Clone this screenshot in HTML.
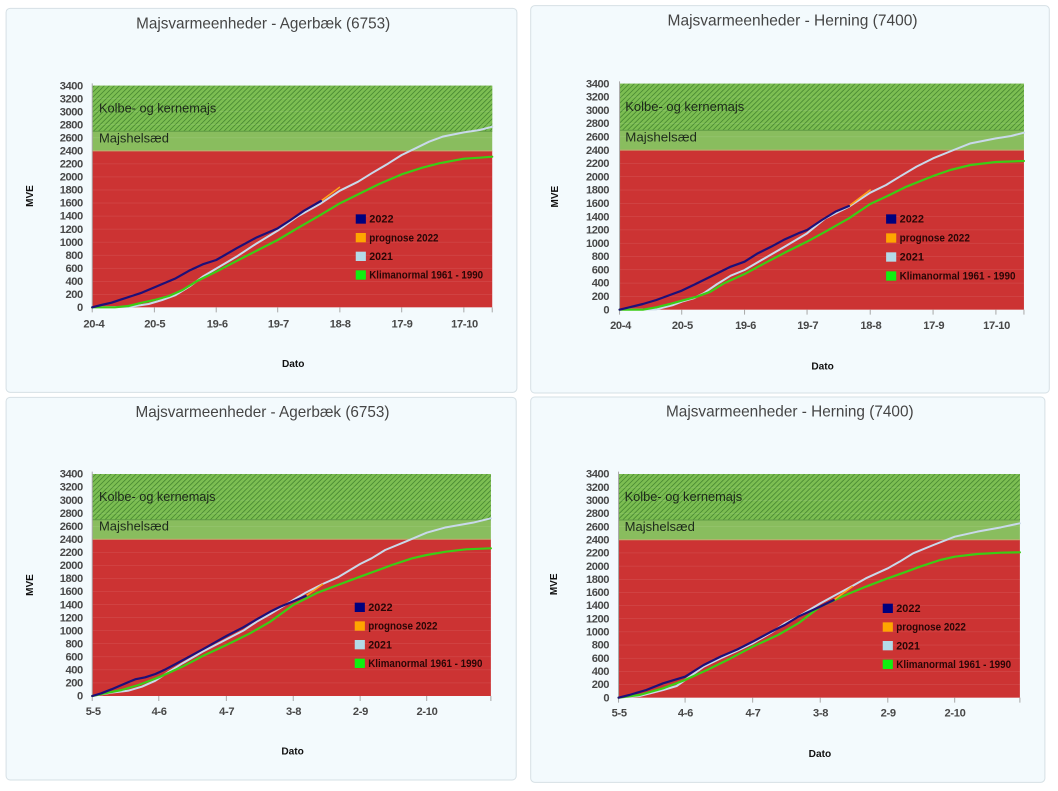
<!DOCTYPE html>
<html><head><meta charset="utf-8"><style>
html,body{margin:0;padding:0;background:#fff;}
svg{display:block;}
text{font-family:"Liberation Sans",Arial,sans-serif;}
.yl{font-size:33px;font-weight:bold;fill:#474747;letter-spacing:-1.3px;}
.xl{font-size:33px;font-weight:bold;fill:#474747;letter-spacing:-1px;}
.ttl{font-size:47px;fill:#454545;}
.ax{font-size:30px;font-weight:bold;fill:#111;}
.bl{font-size:38px;fill:#1d2a1b;}
.lg{font-size:33px;font-weight:bold;fill:#2a0606;}
.grid{stroke:#ffffff;stroke-opacity:.32;stroke-width:1;fill:none;}
.c{fill:none;stroke-linejoin:round;stroke-linecap:round;}
</style></head><body>
<svg width="1058" height="791" viewBox="0 0 1058 791" xmlns="http://www.w3.org/2000/svg">
<defs>
<pattern id="hatch" patternUnits="userSpaceOnUse" width="10.5" height="10.5" patternTransform="rotate(45)">
<rect width="10.5" height="10.5" fill="#7cbe52"/><rect width="2.6" height="10.5" fill="#4a8b33"/>
</pattern>
<path id="gridp" d="M0 200H1000M0 400H1000M0 600H1000M0 800H1000M0 1000H1000M0 1200H1000M0 1400H1000M0 1600H1000M0 1800H1000M0 2000H1000M0 2200H1000M0 2600H1000M0 2800H1000M0 3000H1000M0 3200H1000"/>
</defs>
<rect width="1058" height="791" fill="#fff"/>

<!-- ===== TL ===== -->
<g transform="translate(0,0) scale(0.337838,0.333333)">
<rect x="18" y="25" width="1512" height="1152" rx="12" fill="#f3fafd" stroke="#d6e0e5" stroke-width="1" vector-effect="non-scaling-stroke"/>
<text class="ttl" x="779" y="85" text-anchor="middle" textLength="752" lengthAdjust="spacingAndGlyphs">Majsvarmeenheder - Agerbæk (6753)</text>
<g transform="translate(273,922) scale(1.184,-0.195588)">
<rect x="0" y="0" width="1000" height="2400" fill="#cc3333"/>
<rect x="0" y="2400" width="1000" height="1000" fill="#89bd5e"/>
</g>
<rect x="273" y="257" width="1184" height="136.9" fill="url(#hatch)"/>
<g transform="translate(273,922) scale(1.184,-0.195588)">
<use href="#gridp" class="grid" vector-effect="non-scaling-stroke"/>
<path d="M0 2400H1000" stroke="#c4ad72" stroke-width="1" vector-effect="non-scaling-stroke"/>
<path d="M0 2700H1000" stroke="#5f9a44" stroke-width="1" vector-effect="non-scaling-stroke"/>
</g>
<path d="M273 250V937M457 922V937M640 922V937M822 922V937M1006 922V937M1189 922V937M1373 922V937M1457 922V937" stroke="#a8a8a8" stroke-width="1" vector-effect="non-scaling-stroke"/>
<text class="yl" text-anchor="end" x="245" y="933"><tspan x="245" dy="0">0</tspan><tspan x="245" dy="-39.118">200</tspan><tspan x="245" dy="-39.118">400</tspan><tspan x="245" dy="-39.118">600</tspan><tspan x="245" dy="-39.118">800</tspan><tspan x="245" dy="-39.118">1000</tspan><tspan x="245" dy="-39.118">1200</tspan><tspan x="245" dy="-39.118">1400</tspan><tspan x="245" dy="-39.118">1600</tspan><tspan x="245" dy="-39.118">1800</tspan><tspan x="245" dy="-39.118">2000</tspan><tspan x="245" dy="-39.118">2200</tspan><tspan x="245" dy="-39.118">2400</tspan><tspan x="245" dy="-39.118">2600</tspan><tspan x="245" dy="-39.118">2800</tspan><tspan x="245" dy="-39.118">3000</tspan><tspan x="245" dy="-39.118">3200</tspan><tspan x="245" dy="-39.118">3400</tspan></text>
<g class="xl" text-anchor="middle">
<text x="278" y="982">20-4</text><text x="458" y="982">20-5</text><text x="643" y="982">19-6</text><text x="824" y="982">19-7</text><text x="1007" y="982">18-8</text><text x="1190" y="982">17-9</text><text x="1375" y="982">17-10</text>
</g>
<text class="ax" transform="translate(87,588) rotate(-90)" text-anchor="middle" y="11">MVE</text>
<text class="ax" x="868" y="1101" text-anchor="middle">Dato</text>
<text class="bl" x="293" y="337" textLength="347" lengthAdjust="spacingAndGlyphs">Kolbe- og kernemajs</text>
<text class="bl" x="293" y="427" textLength="207" lengthAdjust="spacingAndGlyphs">Majshelsæd</text>
<polyline class="c" stroke="#c9d9ea" stroke-width="2" vector-effect="non-scaling-stroke" points="273,922 380,921 440,912 480,900 520,885 560,860 600,830 640,806 700,770 760,730 822,692 880,650 950,610 1006,572 1060,545 1100,520 1150,490 1189,465 1230,445 1270,425 1310,410 1373,397 1420,390 1457,380"/>
<polyline class="c" stroke="#3ccc14" stroke-width="2.2" vector-effect="non-scaling-stroke" points="273,922 340,922 380,918 420,908 457,900 500,888 540,870 580,845 640,815 700,783 760,752 822,720 880,685 940,650 1006,610 1060,583 1120,553 1189,523 1250,503 1300,490 1373,476 1420,473 1457,470"/>
<polyline class="c" stroke="#ffa21a" stroke-width="1.5" vector-effect="non-scaling-stroke" points="950,603 1005,562"/>
<polyline class="c" stroke="#1e0f78" stroke-width="2.2" vector-effect="non-scaling-stroke" points="273,922 300,915 330,908 360,898 390,888 420,878 457,862 490,848 520,835 560,812 600,793 640,780 700,745 760,712 822,685 860,660 900,632 950,603"/>
<rect x="1053" y="643" width="30" height="28" fill="#00007e"/>
<rect x="1053" y="699" width="30" height="28" fill="#ffa500"/>
<rect x="1053" y="755" width="30" height="28" fill="#b4dbe8"/>
<rect x="1053" y="811" width="30" height="28" fill="#10ef10"/>
<text class="lg" x="1093" y="668" textLength="72" lengthAdjust="spacingAndGlyphs">2022</text>
<text class="lg" x="1093" y="724" textLength="205" lengthAdjust="spacingAndGlyphs">prognose 2022</text>
<text class="lg" x="1093" y="780" textLength="70" lengthAdjust="spacingAndGlyphs">2021</text>
<text class="lg" x="1093" y="836" textLength="337" lengthAdjust="spacingAndGlyphs">Klimanormal 1961 - 1990</text>
</g>

<!-- ===== TR ===== -->
<g transform="translate(528,0) scale(0.337838,0.333333)">
<rect x="8" y="17" width="1535" height="1162" rx="12" fill="#f3fafd" stroke="#d6e0e5" stroke-width="1" vector-effect="non-scaling-stroke"/>
<text class="ttl" x="783" y="76" text-anchor="middle" textLength="740" lengthAdjust="spacingAndGlyphs">Majsvarmeenheder - Herning (7400)</text>
<g transform="translate(271,929) scale(1.197,-0.199412)">
<rect x="0" y="0" width="1000" height="2400" fill="#cc3333"/>
<rect x="0" y="2400" width="1000" height="1000" fill="#89bd5e"/>
</g>
<rect x="271" y="251" width="1197" height="139.6" fill="url(#hatch)"/>
<g transform="translate(271,929) scale(1.197,-0.199412)">
<use href="#gridp" class="grid" vector-effect="non-scaling-stroke"/>
<path d="M0 2400H1000" stroke="#c4ad72" stroke-width="1" vector-effect="non-scaling-stroke"/>
<path d="M0 2700H1000" stroke="#5f9a44" stroke-width="1" vector-effect="non-scaling-stroke"/>
</g>
<path d="M271 244V944M455 929V944M641 929V944M826 929V944M1013 929V944M1199 929V944M1385 929V944M1468 929V944" stroke="#a8a8a8" stroke-width="1" vector-effect="non-scaling-stroke"/>
<text class="yl" text-anchor="end" x="240" y="940"><tspan x="240" dy="0">0</tspan><tspan x="240" dy="-39.882">200</tspan><tspan x="240" dy="-39.882">400</tspan><tspan x="240" dy="-39.882">600</tspan><tspan x="240" dy="-39.882">800</tspan><tspan x="240" dy="-39.882">1000</tspan><tspan x="240" dy="-39.882">1200</tspan><tspan x="240" dy="-39.882">1400</tspan><tspan x="240" dy="-39.882">1600</tspan><tspan x="240" dy="-39.882">1800</tspan><tspan x="240" dy="-39.882">2000</tspan><tspan x="240" dy="-39.882">2200</tspan><tspan x="240" dy="-39.882">2400</tspan><tspan x="240" dy="-39.882">2600</tspan><tspan x="240" dy="-39.882">2800</tspan><tspan x="240" dy="-39.882">3000</tspan><tspan x="240" dy="-39.882">3200</tspan><tspan x="240" dy="-39.882">3400</tspan></text>
<g class="xl" text-anchor="middle">
<text x="274" y="987">20-4</text><text x="457" y="987">20-5</text><text x="644" y="987">19-6</text><text x="828" y="987">19-7</text><text x="1015" y="987">18-8</text><text x="1201" y="987">17-9</text><text x="1387" y="987">17-10</text>
</g>
<text class="ax" transform="translate(78,590) rotate(-90)" text-anchor="middle" y="11">MVE</text>
<text class="ax" x="872" y="1109" text-anchor="middle">Dato</text>
<text class="bl" x="288" y="333" textLength="352" lengthAdjust="spacingAndGlyphs">Kolbe- og kernemajs</text>
<text class="bl" x="288" y="425" textLength="212" lengthAdjust="spacingAndGlyphs">Majshelsæd</text>
<polyline class="c" stroke="#c9d9ea" stroke-width="2" vector-effect="non-scaling-stroke" points="271,929 380,928 430,915 455,905 490,895 520,880 560,852 600,827 641,810 700,775 760,740 826,700 880,655 950,620 1013,578 1060,555 1100,530 1150,500 1199,475 1260,450 1310,430 1385,415 1430,408 1468,398"/>
<polyline class="c" stroke="#3ccc14" stroke-width="2.2" vector-effect="non-scaling-stroke" points="271,929 340,929 380,922 420,912 455,902 500,890 540,875 580,850 641,822 700,790 760,758 826,725 880,695 950,655 1013,612 1060,590 1120,560 1199,528 1250,510 1310,495 1385,486 1468,483"/>
<polyline class="c" stroke="#ffa21a" stroke-width="1.5" vector-effect="non-scaling-stroke" points="950,618 1013,570"/>
<polyline class="c" stroke="#1e0f78" stroke-width="2.2" vector-effect="non-scaling-stroke" points="271,929 300,922 340,912 380,900 420,885 455,872 490,855 520,840 560,820 600,800 641,785 680,760 720,740 760,718 800,700 826,690 870,660 910,635 950,618"/>
<rect x="1060" y="643" width="30" height="28" fill="#00007e"/>
<rect x="1060" y="700" width="30" height="28" fill="#ffa500"/>
<rect x="1060" y="757" width="30" height="28" fill="#b4dbe8"/>
<rect x="1060" y="814" width="30" height="28" fill="#10ef10"/>
<text class="lg" x="1100" y="668" textLength="72" lengthAdjust="spacingAndGlyphs">2022</text>
<text class="lg" x="1100" y="725" textLength="208" lengthAdjust="spacingAndGlyphs">prognose 2022</text>
<text class="lg" x="1100" y="782" textLength="72" lengthAdjust="spacingAndGlyphs">2021</text>
<text class="lg" x="1100" y="839" textLength="343" lengthAdjust="spacingAndGlyphs">Klimanormal 1961 - 1990</text>
</g>

<!-- ===== BL ===== -->
<g transform="translate(0,390) scale(0.337838,0.333333)">
<rect x="18" y="22" width="1510" height="1148" rx="12" fill="#f3fafd" stroke="#d6e0e5" stroke-width="1" vector-effect="non-scaling-stroke"/>
<text class="ttl" x="777" y="81" text-anchor="middle" textLength="752" lengthAdjust="spacingAndGlyphs">Majsvarmeenheder - Agerbæk (6753)</text>
<g transform="translate(273,918) scale(1.18,-0.195882)">
<rect x="0" y="0" width="1000" height="2400" fill="#cc3333"/>
<rect x="0" y="2400" width="1000" height="1000" fill="#89bd5e"/>
</g>
<rect x="273" y="252" width="1180" height="137.1" fill="url(#hatch)"/>
<g transform="translate(273,918) scale(1.18,-0.195882)">
<use href="#gridp" class="grid" vector-effect="non-scaling-stroke"/>
<path d="M0 2400H1000" stroke="#c4ad72" stroke-width="1" vector-effect="non-scaling-stroke"/>
<path d="M0 2700H1000" stroke="#5f9a44" stroke-width="1" vector-effect="non-scaling-stroke"/>
</g>
<path d="M273 245V933M470 918V933M670 918V933M868 918V933M1066 918V933M1263 918V933M1453 918V933" stroke="#a8a8a8" stroke-width="1" vector-effect="non-scaling-stroke"/>
<text class="yl" text-anchor="end" x="245" y="929"><tspan x="245" dy="0">0</tspan><tspan x="245" dy="-39.176">200</tspan><tspan x="245" dy="-39.176">400</tspan><tspan x="245" dy="-39.176">600</tspan><tspan x="245" dy="-39.176">800</tspan><tspan x="245" dy="-39.176">1000</tspan><tspan x="245" dy="-39.176">1200</tspan><tspan x="245" dy="-39.176">1400</tspan><tspan x="245" dy="-39.176">1600</tspan><tspan x="245" dy="-39.176">1800</tspan><tspan x="245" dy="-39.176">2000</tspan><tspan x="245" dy="-39.176">2200</tspan><tspan x="245" dy="-39.176">2400</tspan><tspan x="245" dy="-39.176">2600</tspan><tspan x="245" dy="-39.176">2800</tspan><tspan x="245" dy="-39.176">3000</tspan><tspan x="245" dy="-39.176">3200</tspan><tspan x="245" dy="-39.176">3400</tspan></text>
<g class="xl" text-anchor="middle">
<text x="276" y="975">5-5</text><text x="471" y="975">4-6</text><text x="671" y="975">4-7</text><text x="869" y="975">3-8</text><text x="1067" y="975">2-9</text><text x="1264" y="975">2-10</text>
</g>
<text class="ax" transform="translate(87,585) rotate(-90)" text-anchor="middle" y="11">MVE</text>
<text class="ax" x="866" y="1094" text-anchor="middle">Dato</text>
<text class="bl" x="293" y="333" textLength="345" lengthAdjust="spacingAndGlyphs">Kolbe- og kernemajs</text>
<text class="bl" x="293" y="422" textLength="207" lengthAdjust="spacingAndGlyphs">Majshelsæd</text>
<polyline class="c" stroke="#c9d9ea" stroke-width="2" vector-effect="non-scaling-stroke" points="273,918 330,908 380,902 420,890 460,872 500,845 540,820 600,785 670,748 720,722 760,695 800,672 868,630 905,608 955,582 1000,562 1066,522 1100,505 1140,480 1200,455 1263,428 1320,412 1400,398 1453,385"/>
<polyline class="c" stroke="#3ccc14" stroke-width="2.2" vector-effect="non-scaling-stroke" points="273,918 320,908 360,900 410,885 470,862 540,830 600,798 670,765 740,730 800,695 868,645 940,608 1000,585 1066,560 1120,540 1160,525 1220,505 1263,495 1320,485 1380,478 1453,475"/>
<polyline class="c" stroke="#ffa21a" stroke-width="1.5" vector-effect="non-scaling-stroke" points="905,618 955,583"/>
<polyline class="c" stroke="#1e0f78" stroke-width="2.2" vector-effect="non-scaling-stroke" points="273,918 300,910 330,898 360,885 400,868 430,862 460,852 490,838 520,822 560,800 600,778 640,755 670,738 720,712 760,688 800,665 830,650 868,634 905,618"/>
<rect x="1050" y="638" width="30" height="28" fill="#00007e"/>
<rect x="1050" y="694" width="30" height="28" fill="#ffa500"/>
<rect x="1050" y="750" width="30" height="28" fill="#b4dbe8"/>
<rect x="1050" y="806" width="30" height="28" fill="#10ef10"/>
<text class="lg" x="1090" y="663" textLength="72" lengthAdjust="spacingAndGlyphs">2022</text>
<text class="lg" x="1090" y="719" textLength="205" lengthAdjust="spacingAndGlyphs">prognose 2022</text>
<text class="lg" x="1090" y="775" textLength="70" lengthAdjust="spacingAndGlyphs">2021</text>
<text class="lg" x="1090" y="831" textLength="338" lengthAdjust="spacingAndGlyphs">Klimanormal 1961 - 1990</text>
</g>

<!-- ===== BR ===== -->
<g transform="translate(528,390) scale(0.337838,0.333333)">
<rect x="8" y="21" width="1522" height="1156" rx="12" fill="#f3fafd" stroke="#d6e0e5" stroke-width="1" vector-effect="non-scaling-stroke"/>
<text class="ttl" x="775" y="79" text-anchor="middle" textLength="733" lengthAdjust="spacingAndGlyphs">Majsvarmeenheder - Herning (7400)</text>
<g transform="translate(268,923) scale(1.188,-0.197353)">
<rect x="0" y="0" width="1000" height="2400" fill="#cc3333"/>
<rect x="0" y="2400" width="1000" height="1000" fill="#89bd5e"/>
</g>
<rect x="268" y="252" width="1188" height="138.1" fill="url(#hatch)"/>
<g transform="translate(268,923) scale(1.188,-0.197353)">
<use href="#gridp" class="grid" vector-effect="non-scaling-stroke"/>
<path d="M0 2400H1000" stroke="#c4ad72" stroke-width="1" vector-effect="non-scaling-stroke"/>
<path d="M0 2700H1000" stroke="#5f9a44" stroke-width="1" vector-effect="non-scaling-stroke"/>
</g>
<path d="M268 245V938M465 923V938M665 923V938M865 923V938M1065 923V938M1263 923V938M1456 923V938" stroke="#a8a8a8" stroke-width="1" vector-effect="non-scaling-stroke"/>
<text class="yl" text-anchor="end" x="240" y="934"><tspan x="240" dy="0">0</tspan><tspan x="240" dy="-39.47">200</tspan><tspan x="240" dy="-39.47">400</tspan><tspan x="240" dy="-39.47">600</tspan><tspan x="240" dy="-39.47">800</tspan><tspan x="240" dy="-39.47">1000</tspan><tspan x="240" dy="-39.47">1200</tspan><tspan x="240" dy="-39.47">1400</tspan><tspan x="240" dy="-39.47">1600</tspan><tspan x="240" dy="-39.47">1800</tspan><tspan x="240" dy="-39.47">2000</tspan><tspan x="240" dy="-39.47">2200</tspan><tspan x="240" dy="-39.47">2400</tspan><tspan x="240" dy="-39.47">2600</tspan><tspan x="240" dy="-39.47">2800</tspan><tspan x="240" dy="-39.47">3000</tspan><tspan x="240" dy="-39.47">3200</tspan><tspan x="240" dy="-39.47">3400</tspan></text>
<g class="xl" text-anchor="middle">
<text x="270" y="980">5-5</text><text x="466" y="980">4-6</text><text x="666" y="980">4-7</text><text x="866" y="980">3-8</text><text x="1066" y="980">2-9</text><text x="1264" y="980">2-10</text>
</g>
<text class="ax" transform="translate(75,583) rotate(-90)" text-anchor="middle" y="11">MVE</text>
<text class="ax" x="864" y="1101" text-anchor="middle">Dato</text>
<text class="bl" x="286" y="333" textLength="348" lengthAdjust="spacingAndGlyphs">Kolbe- og kernemajs</text>
<text class="bl" x="286" y="423" textLength="208" lengthAdjust="spacingAndGlyphs">Majshelsæd</text>
<polyline class="c" stroke="#c9d9ea" stroke-width="2" vector-effect="non-scaling-stroke" points="268,923 330,918 400,900 440,888 465,870 520,830 570,805 620,782 665,760 720,728 760,700 800,680 865,640 905,618 960,588 1000,565 1065,535 1100,515 1140,490 1200,465 1263,440 1330,425 1400,412 1456,400"/>
<polyline class="c" stroke="#3ccc14" stroke-width="2.2" vector-effect="non-scaling-stroke" points="268,923 330,915 400,895 465,870 530,840 600,805 665,770 740,735 800,700 865,650 940,615 1000,590 1065,565 1120,545 1160,530 1220,510 1263,500 1330,492 1400,488 1456,487"/>
<polyline class="c" stroke="#ffa21a" stroke-width="1.5" vector-effect="non-scaling-stroke" points="905,630 960,590"/>
<polyline class="c" stroke="#1e0f78" stroke-width="2.2" vector-effect="non-scaling-stroke" points="268,923 300,915 350,900 400,880 465,860 520,825 570,800 620,778 665,755 720,725 760,705 800,680 865,650 905,630"/>
<rect x="1050" y="641" width="30" height="28" fill="#00007e"/>
<rect x="1050" y="697" width="30" height="28" fill="#ffa500"/>
<rect x="1050" y="753" width="30" height="28" fill="#b4dbe8"/>
<rect x="1050" y="809" width="30" height="28" fill="#10ef10"/>
<text class="lg" x="1090" y="666" textLength="72" lengthAdjust="spacingAndGlyphs">2022</text>
<text class="lg" x="1090" y="722" textLength="206" lengthAdjust="spacingAndGlyphs">prognose 2022</text>
<text class="lg" x="1090" y="778" textLength="70" lengthAdjust="spacingAndGlyphs">2021</text>
<text class="lg" x="1090" y="834" textLength="340" lengthAdjust="spacingAndGlyphs">Klimanormal 1961 - 1990</text>
</g>
</svg>
</body></html>
